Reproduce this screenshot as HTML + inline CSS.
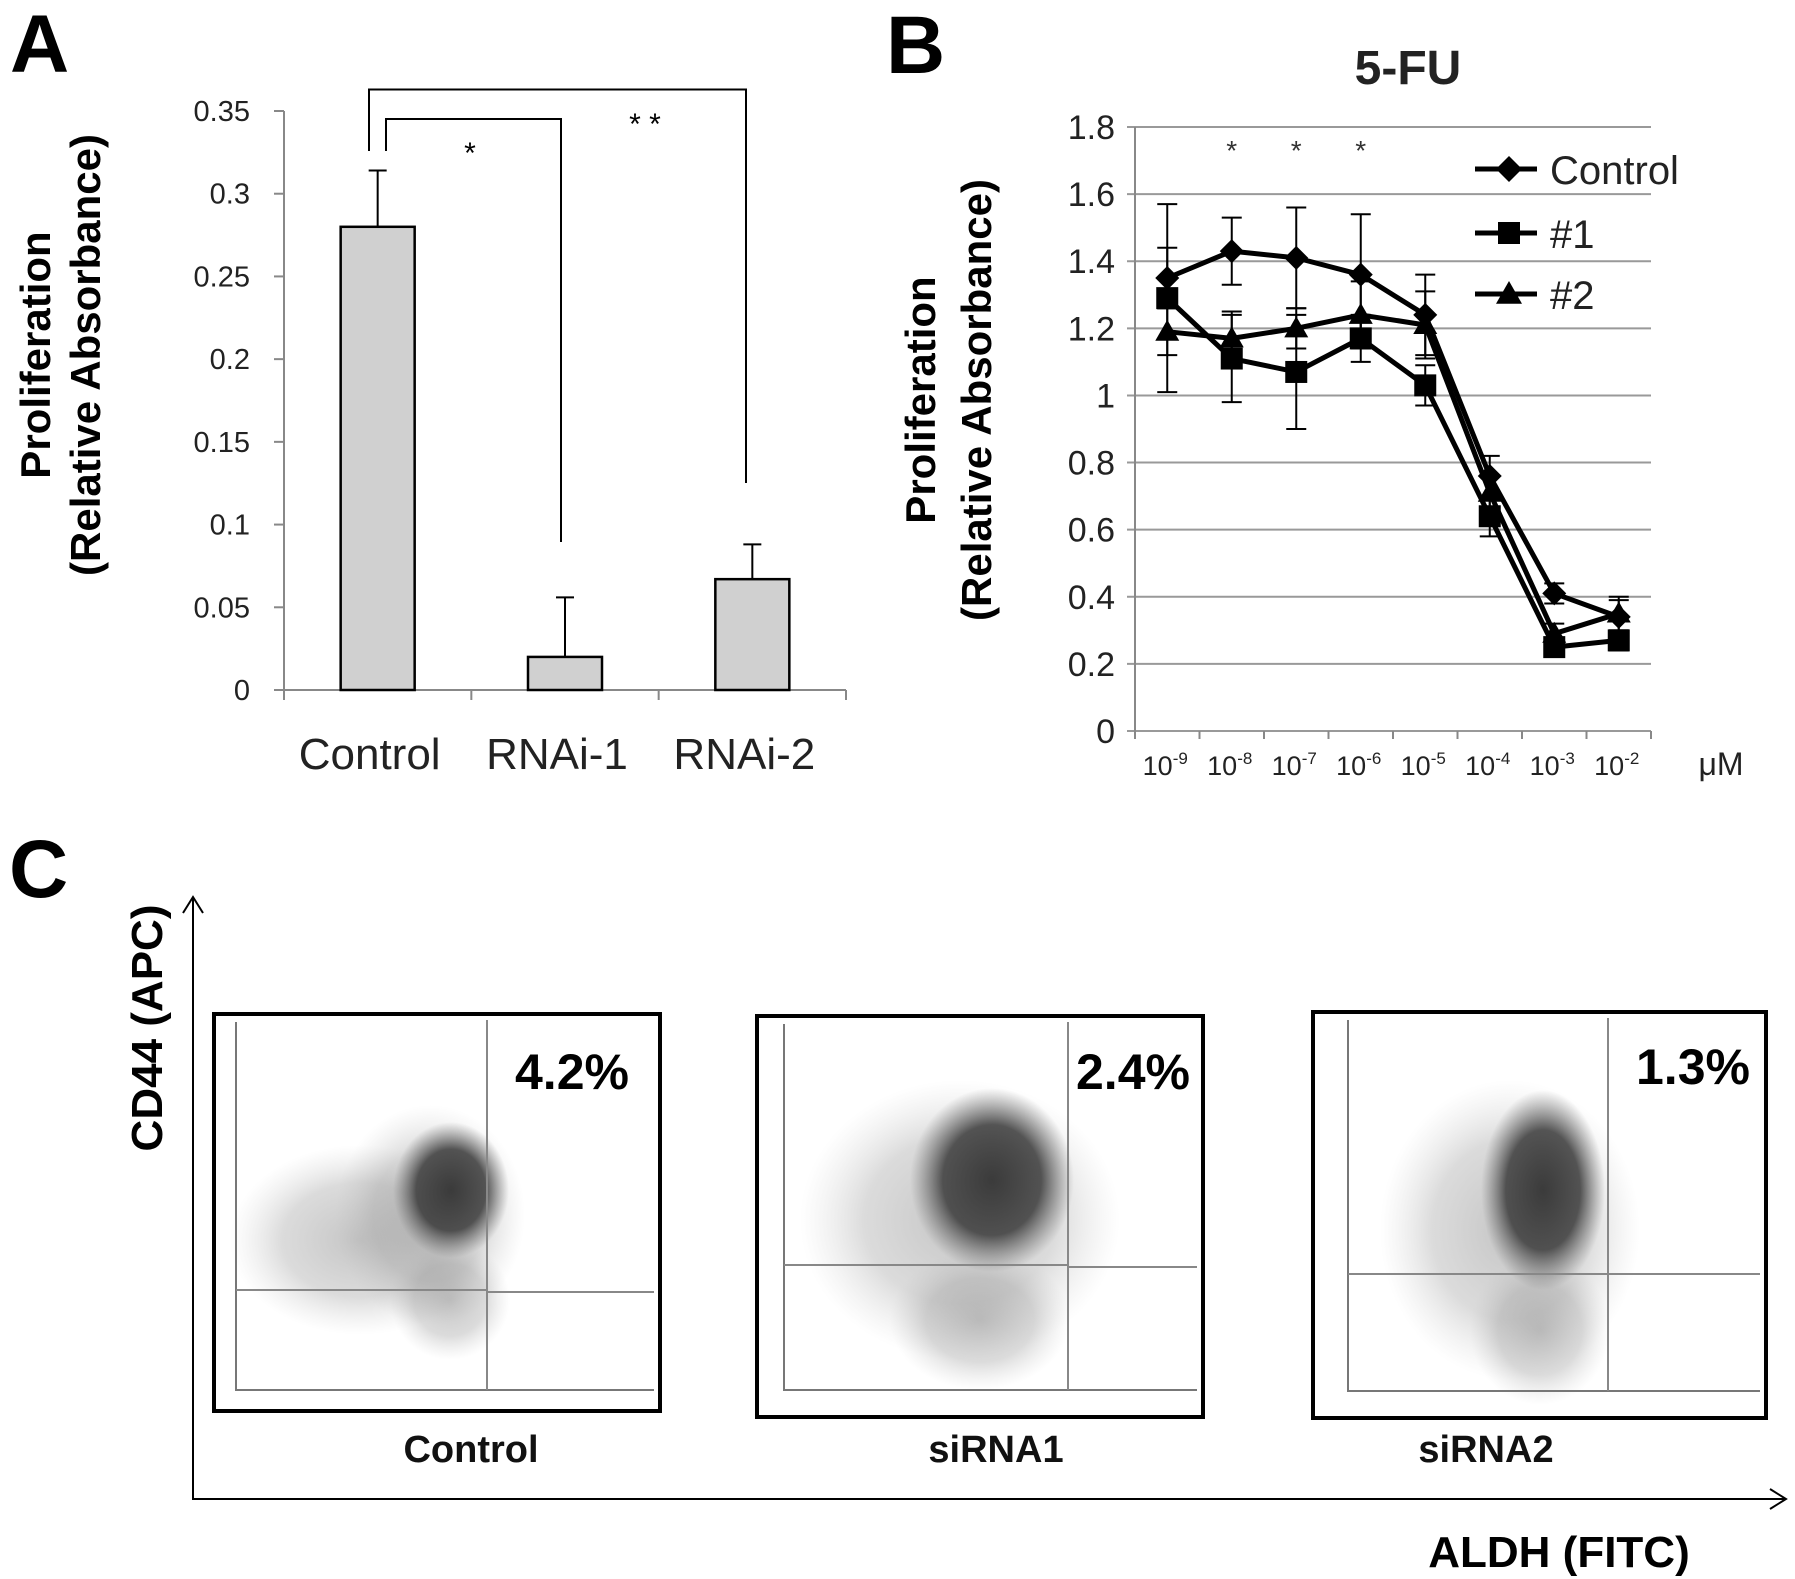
<!DOCTYPE html>
<html><head><meta charset="utf-8"><style>
html,body{margin:0;padding:0;background:#fff}
svg{display:block;font-family:"Liberation Sans",sans-serif}
</style></head><body>
<svg id="fig" width="1795" height="1579" viewBox="0 0 1795 1579" xmlns="http://www.w3.org/2000/svg">
<defs>
<radialGradient id="core" cx="50%" cy="50%" r="50%">
<stop offset="0" stop-color="#333" stop-opacity="0.95"/>
<stop offset="0.6" stop-color="#3a3a3a" stop-opacity="0.85"/>
<stop offset="1" stop-color="#666" stop-opacity="0"/>
</radialGradient>
<radialGradient id="halo" cx="50%" cy="50%" r="50%">
<stop offset="0" stop-color="#8a8a8a" stop-opacity="0.5"/>
<stop offset="0.6" stop-color="#999" stop-opacity="0.35"/>
<stop offset="1" stop-color="#bbb" stop-opacity="0"/>
</radialGradient>
</defs>
<g id="panelA"></g>
<g id="panelB"></g>
<g id="panelC"></g>
</svg>
<script>
// ---------- Panel A data ----------
const aCategories = ["Control", "RNAi-1", "RNAi-2"];
const aValues = [0.28, 0.02, 0.067];
const aErrors = [0.034, 0.036, 0.021];
const aTicks = ["0", "0.05", "0.1", "0.15", "0.2", "0.25", "0.3", "0.35"];
const aTickValues = [0, 0.05, 0.1, 0.15, 0.2, 0.25, 0.3, 0.35];

// ---------- Panel B data ----------
const bCategories = ["-9", "-8", "-7", "-6", "-5", "-4", "-3", "-2"];
const bControl = [1.35, 1.43, 1.41, 1.36, 1.24, 0.76, 0.41, 0.34];
const bControlErr = [0.09, 0.1, 0.15, 0.18, 0.12, 0.06, 0.03, 0.05];
const bS1 = [1.29, 1.11, 1.07, 1.17, 1.03, 0.64, 0.25, 0.27];
const bS1Err = [0.28, 0.13, 0.17, 0.07, 0.06, 0.06, 0.02, 0.03];
const bS2 = [1.19, 1.17, 1.2, 1.24, 1.21, 0.71, 0.29, 0.35];
const bS2Err = [0.07, 0.08, 0.06, 0.1, 0.1, 0.05, 0.03, 0.05];
const bTicks = ["0", "0.2", "0.4", "0.6", "0.8", "1", "1.2", "1.4", "1.6", "1.8"];
const bTickValues = [0, 0.2, 0.4, 0.6, 0.8, 1, 1.2, 1.4, 1.6, 1.8];
const bSeriesNames = ["Control", "#1", "#2"];

// ---------- Panel C data ----------
const cSamples = ["Control", "siRNA1", "siRNA2"];
const cPercents = ["4.2%", "2.4%", "1.3%"];

const NS = "http://www.w3.org/2000/svg";
function mk(parent, tag, attrs, text) {
  const e = document.createElementNS(NS, tag);
  for (const k in attrs) e.setAttribute(k, attrs[k]);
  if (text !== undefined) e.textContent = text;
  parent.appendChild(e);
  return e;
}

// ================= PANEL A =================
(function () {
  const g = document.getElementById("panelA");
  const x0 = 284, x1 = 846, y0 = 690, yTop = 111, vMax = 0.35;
  const ya = v => y0 - (v / vMax) * (y0 - yTop);
  const band = (x1 - x0) / aCategories.length;
  const xc = i => x0 + band * (i + 0.5);

  let t = mk(g, "text", {x: 10, y: 72, "font-size": 82, "font-weight": "bold"}, "A");
  
  

  const yt = mk(g, "text", {transform: "translate(50,355) rotate(-90)", "text-anchor": "middle", "font-size": 42, "font-weight": "bold"});
  
  
  mk(yt, "tspan", {x: 0, y: 0}, "Proliferation");
  mk(yt, "tspan", {x: 0, y: 50}, "(Relative Absorbance)");

  let ax = mk(g, "line", {x1: x0, y1: yTop, x2: x0, y2: y0, stroke: "#888", "stroke-width": 2});
  
  
  ax = mk(g, "line", {x1: x0, y1: y0, x2: x1, y2: y0, stroke: "#888", "stroke-width": 2});
  
  

  aTickValues.forEach((v, i) => {
    const y = ya(v);
    const tk = mk(g, "line", {x1: x0 - 10, y1: y, x2: x0, y2: y, stroke: "#888", "stroke-width": 2});
    
    
    const lb = mk(g, "text", {x: 250, y: y + 10, "text-anchor": "end", "font-size": 29, fill: "#222"}, aTicks[i]);
    
    
  });
  for (let i = 0; i <= aCategories.length; i++) {
    const x = x0 + band * i;
    const tk = mk(g, "line", {x1: x, y1: y0, x2: x, y2: y0 + 10, stroke: "#888", "stroke-width": 2});
    
    
  }
  const bw = 74;
  aCategories.forEach((c, i) => {
    const x = xc(i), yv = ya(aValues[i]), ye = ya(aValues[i] + aErrors[i]);
    const eb = mk(g, "path", {d: `M${x},${yv}V${ye}M${x - 9},${ye}H${x + 9}`, stroke: "#000", "stroke-width": 2, fill: "none"});
    
    
    const r = mk(g, "rect", {x: x - bw / 2, y: yv, width: bw, height: y0 - yv, fill: "#d0d0d0", stroke: "#000", "stroke-width": 2.5});
    
    
    const lb = mk(g, "text", {x: x - 8, y: 769, "text-anchor": "middle", "font-size": 44, fill: "#222"}, c);
    
    
  });
  const br1 = mk(g, "path", {d: "M369,151V89.5H746V483", stroke: "#000", "stroke-width": 2, fill: "none"});
  
  
  const br2 = mk(g, "path", {d: "M386,151V119H561V542", stroke: "#000", "stroke-width": 2, fill: "none"});
  
  
  t = mk(g, "text", {x: 470, y: 163, "text-anchor": "middle", "font-size": 30}, "*");
  
  
  t = mk(g, "text", {x: 645, y: 134, "text-anchor": "middle", "font-size": 30}, "* *");
  
  
})();

// ================= PANEL B =================
(function () {
  const g = document.getElementById("panelB");
  const x0 = 1135, x1 = 1651, y0 = 731, yTop = 127, vMax = 1.8;
  const yb = v => y0 - (v / vMax) * (y0 - yTop);
  const band = (x1 - x0) / bCategories.length;
  const xc = i => x0 + band * (i + 0.5);

  let t = mk(g, "text", {x: 886, y: 73, "font-size": 82, "font-weight": "bold"}, "B");
  
  
  t = mk(g, "text", {x: 1408, y: 84, "text-anchor": "middle", "font-size": 48, "font-weight": "bold", fill: "#222"}, "5-FU");
  
  

  const yt = mk(g, "text", {transform: "translate(935,400) rotate(-90)", "text-anchor": "middle", "font-size": 42, "font-weight": "bold"});
  
  
  mk(yt, "tspan", {x: 0, y: 0}, "Proliferation");
  mk(yt, "tspan", {x: 0, y: 56}, "(Relative Absorbance)");

  bTickValues.forEach((v, i) => {
    const y = yb(v);
    const gl = mk(g, "line", {x1: x0 - 8, y1: y, x2: x1, y2: y, stroke: "#999", "stroke-width": 2});
    
    
    const lb = mk(g, "text", {x: 1115, y: y + 12, "text-anchor": "end", "font-size": 34, fill: "#222"}, bTicks[i]);
    
    
  });
  const ax = mk(g, "line", {x1: x0, y1: yTop, x2: x0, y2: y0, stroke: "#888", "stroke-width": 2});
  
  
  for (let i = 0; i <= bCategories.length; i++) {
    const x = x0 + band * i;
    const tk = mk(g, "line", {x1: x, y1: y0, x2: x, y2: y0 + 8, stroke: "#888", "stroke-width": 2});
    
    
  }
  bCategories.forEach((c, i) => {
    const lb = mk(g, "text", {x: xc(i) - 2, y: 775, "text-anchor": "middle", "font-size": 27, fill: "#222"});
    
    
    mk(lb, "tspan", {}, "10");
    mk(lb, "tspan", {dy: -11, "font-size": 17}, c);
  });
  t = mk(g, "text", {x: 1721, y: 775, "text-anchor": "middle", "font-size": 32, fill: "#222"}, "μM");
  
  

  [1, 2, 3].forEach(i => {
    const s = mk(g, "text", {x: xc(i), y: 160, "text-anchor": "middle", "font-size": 28, fill: "#333"}, "*");
    
    
  });

  function marker(parent, type, x, y, s) {
    let m;
    if (type === "diamond") m = mk(parent, "path", {d: `M${x},${y - s}L${x + s},${y}L${x},${y + s}L${x - s},${y}Z`, fill: "#000"});
    else if (type === "square") m = mk(parent, "rect", {x: x - s, y: y - s, width: 2 * s, height: 2 * s, fill: "#000"});
    else m = mk(parent, "path", {d: `M${x},${y - s}L${x + s},${y + s * 0.75}L${x - s},${y + s * 0.75}Z`, fill: "#000"});
    return m;
  }
  const series = [
    {name: "control", vals: bControl, errs: bControlErr, mk: "diamond", size: 12},
    {name: "s1", vals: bS1, errs: bS1Err, mk: "square", size: 11},
    {name: "s2", vals: bS2, errs: bS2Err, mk: "triangle", size: 12}
  ];
  series.forEach(s => {
    const sg = mk(g, "g", {});
    
    
    s.vals.forEach((v, i) => {
      const x = xc(i), yh = yb(v + s.errs[i]), yl = yb(v - s.errs[i]);
      const eb = mk(sg, "path", {d: `M${x},${yh}V${yl}M${x - 10},${yh}H${x + 10}M${x - 10},${yl}H${x + 10}`, stroke: "#000", "stroke-width": 2, fill: "none"});
      
      
    });
    const pts = s.vals.map((v, i) => xc(i) + "," + yb(v)).join(" ");
    const pl = mk(sg, "polyline", {points: pts, fill: "none", stroke: "#000", "stroke-width": 5, "stroke-linejoin": "round"});
    
    
    s.vals.forEach((v, i) => {
      const m = marker(sg, s.mk, xc(i), yb(v), s.size);
      
      
    });
  });
  const legY = [169, 233, 294];
  const legMk = ["diamond", "square", "triangle"];
  bSeriesNames.forEach((n, i) => {
    const lg = mk(g, "g", {});
    
    
    mk(lg, "line", {x1: 1475, y1: legY[i], x2: 1537, y2: legY[i], stroke: "#000", "stroke-width": 5});
    marker(lg, legMk[i], 1509, legY[i], legMk[i] === "square" ? 11 : 13);
    mk(lg, "text", {x: 1550, y: legY[i] + 15, "font-size": 40, fill: "#222"}, n);
  });
})();

// ================= PANEL C =================
(function () {
  const g = document.getElementById("panelC");
  let t = mk(g, "text", {x: 9, y: 897, "font-size": 82, "font-weight": "bold"}, "C");
  
  

  const axs = mk(g, "path", {d: "M193,897V1499H1784M183,913L193,897L203,913M1770,1489L1786,1499L1770,1509", stroke: "#000", "stroke-width": 2, fill: "none"});
  
  
  t = mk(g, "text", {transform: "translate(162,1028) rotate(-90)", "text-anchor": "middle", "font-size": 44, "font-weight": "bold"}, "CD44  (APC)");
  
  
  t.setAttribute('xml:space', 'preserve');
  t = mk(g, "text", {x: 1559, y: 1567, "text-anchor": "middle", "font-size": 44, "font-weight": "bold"}, "ALDH  (FITC)");
  
  
  t.setAttribute('xml:space', 'preserve');

  const boxes = [
    {x: 214, y: 1014, w: 446, h: 397, ax: 236, by: 1390, gx: 487, gy: 1290, gyR: 1292,
     blobs: [[360, 1240, 130, 95, "halo"], [430, 1215, 95, 110, "halo"], [450, 1300, 60, 60, "halo"], [451, 1190, 58, 68, "core"]],
     px: 515, py: 1089, lx: 471},
    {x: 757, y: 1016, w: 446, h: 401, ax: 784, by: 1390, gx: 1068, gy: 1265, gyR: 1267,
     blobs: [[960, 1220, 160, 140, "halo"], [980, 1320, 90, 70, "halo"], [992, 1180, 82, 92, "core"]],
     px: 1076, py: 1089, lx: 996},
    {x: 1313, y: 1012, w: 453, h: 406, ax: 1348, by: 1391, gx: 1608, gy: 1274, gyR: 1274,
     blobs: [[1510, 1230, 130, 150, "halo"], [1540, 1330, 70, 75, "halo"], [1543, 1190, 62, 100, "core"]],
     px: 1636, py: 1084, lx: 1486}
  ];
  boxes.forEach((b, i) => {
    const bg = mk(g, "g", {});
    
    
    b.blobs.forEach(bl => {
      const e = mk(bg, "ellipse", {cx: bl[0], cy: bl[1], rx: bl[2], ry: bl[3], fill: "url(#" + bl[4] + ")"});
      
      
    });
    const ln = mk(bg, "path", {d: `M${b.ax},${b.y + 8}V${b.by}H${b.x + b.w - 6}`, stroke: "#777", "stroke-width": 2, fill: "none"});
    
    
    const gate = mk(bg, "path", {d: `M${b.gx},${b.y + 6}V${b.by}M${b.ax},${b.gy}H${b.gx}M${b.gx},${b.gyR}H${b.x + b.w - 6}`, stroke: "#888", "stroke-width": 2, fill: "none"});
    
    
    const r = mk(bg, "rect", {x: b.x, y: b.y, width: b.w, height: b.h, fill: "none", stroke: "#000", "stroke-width": 4});
    
    
    const p = mk(bg, "text", {x: b.px, y: b.py, "font-size": 50, "font-weight": "bold"}, cPercents[i]);
    
    
    const l = mk(bg, "text", {x: b.lx, y: 1462, "text-anchor": "middle", "font-size": 38, "font-weight": "bold", fill: "#111"}, cSamples[i]);
    
    
  });
})();
</script>
</body></html>
